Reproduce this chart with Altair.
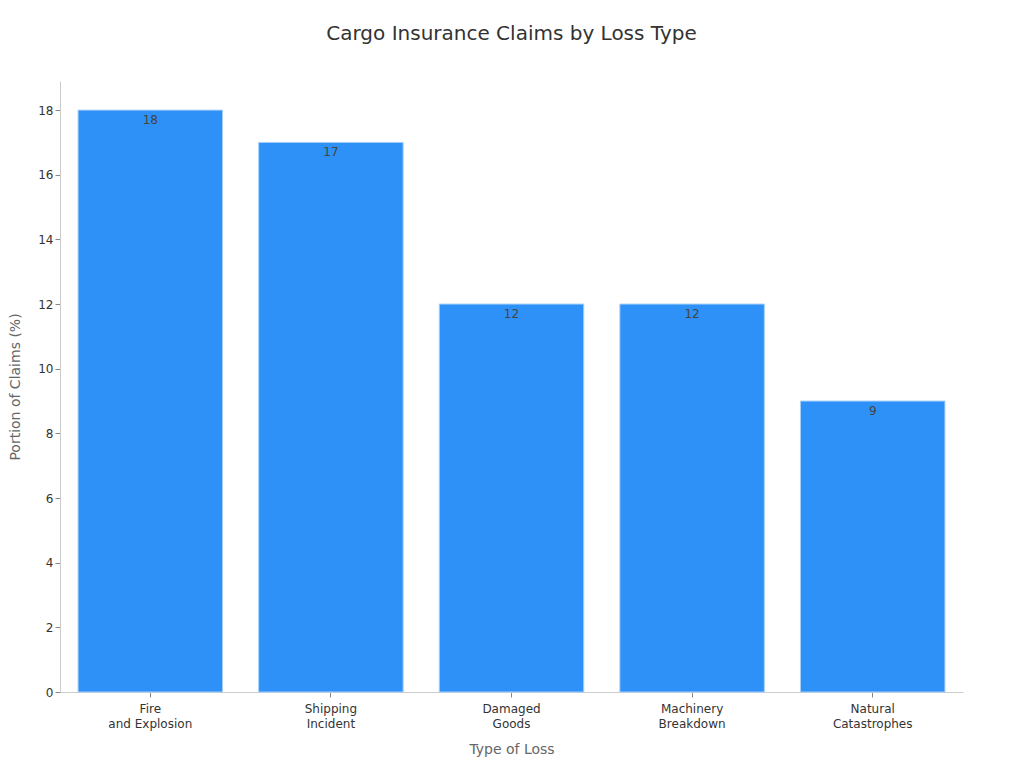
import altair as alt
import pandas as pd

categories = ["Fire\nand Explosion", "Shipping\nIncident", "Damaged\nGoods", "Machinery\nBreakdown", "Natural\nCatastrophes"]
values = [18, 17, 12, 12, 9]

df = pd.DataFrame({"cat": categories, "val": values})

x = alt.X("cat:N", sort=categories, title="Type of Loss",
          scale=alt.Scale(paddingInner=0.2, paddingOuter=0.1),
          axis=alt.Axis(labelAngle=0, labelExpr="split(datum.label, '\\n')",
                        labelFontSize=12, labelColor="#333333", labelLineHeight=15,
                        titleFontSize=14, titleColor="#666666", titleFontWeight="normal",
                        titlePadding=13, domainColor="#cccccc", tickColor="#888888",
                        labelPadding=6))
y = alt.Y("val:Q", title="Portion of Claims (%)",
          scale=alt.Scale(domain=[0, 18.9], nice=False),
          axis=alt.Axis(values=list(range(0, 19, 2)), grid=False,
                        labelFontSize=12, labelColor="#333333",
                        titleFontSize=14, titleColor="#666666", titleFontWeight="normal",
                        titlePadding=15, domainColor="#cccccc", tickColor="#888888"))

bars = alt.Chart(df).mark_bar(color="#2E91F7", stroke="#a6cff9", strokeWidth=1).encode(x=x, y=y)
text = alt.Chart(df).mark_text(baseline="top", dy=5, fontSize=12, color="#444444").encode(
    x=alt.X("cat:N", sort=categories), y="val:Q", text="val:Q")

chart = (bars + text).properties(
    width=903, height=611,
    title=alt.TitleParams("Cargo Insurance Claims by Loss Type", fontSize=20,
                          fontWeight="normal", color="#333333", offset=37, anchor="middle"),
    autosize=alt.AutoSizeParams(type="none"),
    padding={"left": 52, "top": 73, "right": 53, "bottom": 76},
).configure(font="DejaVu Sans").configure_view(stroke=None, strokeWidth=0)

chart.save("out.html", embed_options={"renderer": "svg", "actions": False})
